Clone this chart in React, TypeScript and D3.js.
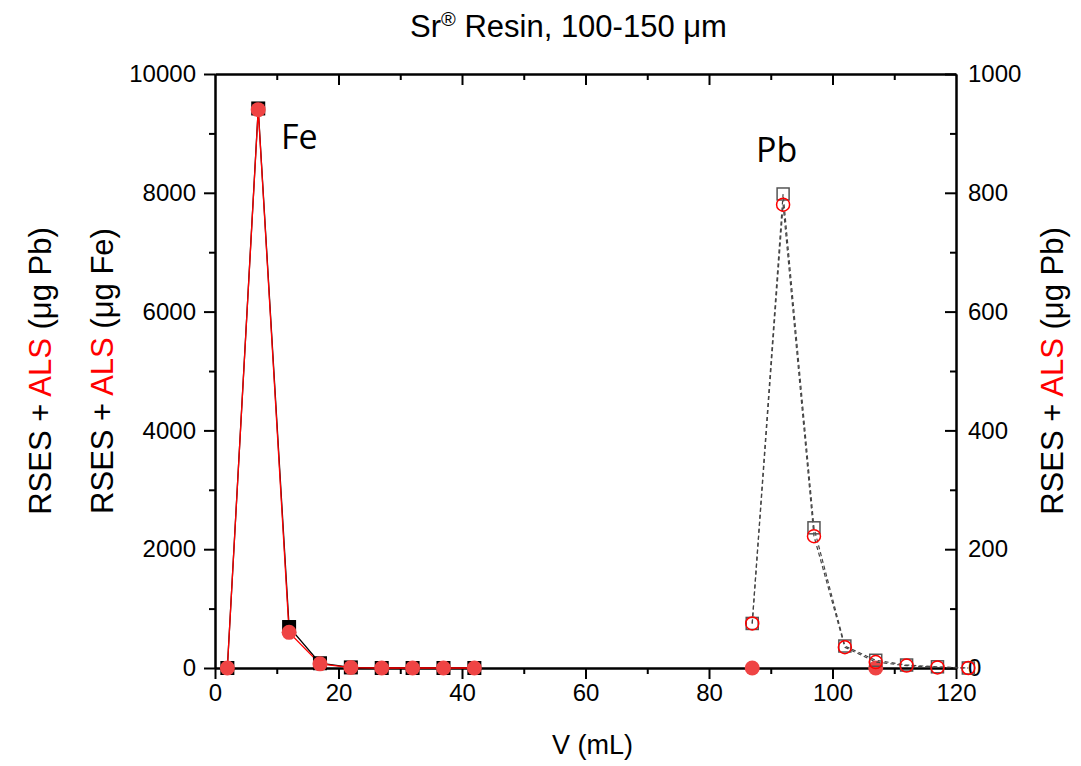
import { useEffect, useRef } from 'react';
import * as d3 from 'd3';

// Fe elution (left axis, µg Fe)
const feVolume = [2, 7, 12, 17, 22, 27, 32, 37, 42];
const feRses = [0, 9420, 690, 80, 10, 0, 0, 0, 0];
const feAls = [0, 9400, 600, 70, 8, 0, 0, 0, 0];
// ALS Fe readings in the Pb fractions
const feAlsLateVolume = [87, 107];
const feAlsLate = [0, 0];

// Pb elution (right axis, µg Pb)
const pbVolume = [87, 92, 97, 102, 107, 112, 117, 122];
const pbRses = [75, 798, 236, 37, 13, 5, 2, 0];
const pbAls = [75, 780, 222, 35, 10, 4, 1, 0];

const xTicks = [0, 20, 40, 60, 80, 100, 120];
const xMinor = [10, 30, 50, 70, 90, 110];
const feTicks = [0, 2000, 4000, 6000, 8000, 10000];
const feMinor = [1000, 3000, 5000, 7000, 9000];
const pbTicks = [0, 200, 400, 600, 800, 1000];
const pbMinor = [100, 300, 500, 700, 900];

const FONT = "'Liberation Sans', Arial, sans-serif";
const RED = '#ff0000';
const FILL_RED = '#ef4444';

const App = () => {
  const svgRef = useRef<SVGSVGElement>(null);

  useEffect(() => {
    const width = 1081;
    const height = 766;
    const plot = { left: 215, right: 956, top: 74, bottom: 668 };

    const svg = d3.select(svgRef.current);
    svg.selectAll('*').remove();
    svg.attr('width', width).attr('height', height);

    const x = d3.scaleLinear().domain([0, 120]).range([plot.left, plot.right]);
    const yFe = d3.scaleLinear().domain([0, 10000]).range([plot.bottom, plot.top]);
    const yPb = d3.scaleLinear().domain([0, 1000]).range([plot.bottom, plot.top]);
    const fmt = d3.format('d');
    const none = () => '';

    const styleAxis = (g, labels = true) => {
      g.selectAll('path.domain').attr('stroke', '#000').attr('stroke-width', 2);
      g.selectAll('.tick line').attr('stroke', '#000').attr('stroke-width', 2);
      g.selectAll('.tick text')
        .attr('fill', '#000')
        .style('font-family', FONT)
        .style('font-size', labels ? '24px' : '0px');
    };

    // bottom axis
    svg.append('g')
      .attr('transform', `translate(0,${plot.bottom})`)
      .call(d3.axisBottom(x).tickValues(xMinor).tickSize(6).tickSizeOuter(0).tickFormat(none))
      .call(g => styleAxis(g, false));
    svg.append('g')
      .attr('transform', `translate(0,${plot.bottom})`)
      .call(d3.axisBottom(x).tickValues(xTicks).tickSize(11).tickSizeOuter(0).tickPadding(5).tickFormat(fmt))
      .call(g => styleAxis(g));

    // top axis, ticks inward
    svg.append('g')
      .attr('transform', `translate(0,${plot.top})`)
      .call(d3.axisTop(x).tickValues(xMinor).tickSize(-6).tickSizeOuter(0).tickFormat(none))
      .call(g => styleAxis(g, false));
    svg.append('g')
      .attr('transform', `translate(0,${plot.top})`)
      .call(d3.axisTop(x).tickValues(xTicks.slice(1, -1)).tickSize(-11).tickSizeOuter(0).tickFormat(none))
      .call(g => styleAxis(g, false));

    // left axis (Fe)
    svg.append('g')
      .attr('transform', `translate(${plot.left},0)`)
      .call(d3.axisLeft(yFe).tickValues(feMinor).tickSize(6).tickSizeOuter(0).tickFormat(none))
      .call(g => styleAxis(g, false));
    svg.append('g')
      .attr('transform', `translate(${plot.left},0)`)
      .call(d3.axisLeft(yFe).tickValues(feTicks).tickSize(11).tickSizeOuter(0).tickPadding(8).tickFormat(fmt))
      .call(g => styleAxis(g));

    // right axis (Pb), ticks inward
    svg.append('g')
      .attr('transform', `translate(${plot.right},0)`)
      .call(d3.axisRight(yPb).tickValues(pbMinor).tickSize(-6).tickSizeOuter(0).tickFormat(none))
      .call(g => styleAxis(g, false));
    svg.append('g')
      .attr('transform', `translate(${plot.right},0)`)
      .call(d3.axisRight(yPb).tickValues(pbTicks).tickSize(-11).tickSizeOuter(0).tickPadding(12).tickFormat(fmt))
      .call(g => styleAxis(g));

    // Fe series
    const feLine = (vals) => d3.line<number>()
      .x((_, i) => x(feVolume[i]))
      .y(d => yFe(d))(vals);

    svg.append('path').attr('d', feLine(feRses))
      .attr('fill', 'none').attr('stroke', '#000').attr('stroke-width', 1.3);
    svg.append('path').attr('d', feLine(feAls))
      .attr('fill', 'none').attr('stroke', RED).attr('stroke-width', 1.3);

    svg.append('g').selectAll('rect')
      .data(feRses)
      .join('rect')
      .attr('x', (_, i) => x(feVolume[i]) - 7)
      .attr('y', d => yFe(d) - 7)
      .attr('width', 14)
      .attr('height', 14)
      .attr('fill', '#000');

    svg.append('g').selectAll('circle')
      .data(feAls)
      .join('circle')
      .attr('cx', (_, i) => x(feVolume[i]))
      .attr('cy', d => yFe(d))
      .attr('r', 7.5)
      .attr('fill', FILL_RED);

    svg.append('g').selectAll('circle')
      .data(feAlsLate)
      .join('circle')
      .attr('cx', (_, i) => x(feAlsLateVolume[i]))
      .attr('cy', d => yFe(d))
      .attr('r', 7.5)
      .attr('fill', FILL_RED);

    // Pb series
    const pbLine = (vals) => d3.line<number>()
      .x((_, i) => x(pbVolume[i]))
      .y(d => yPb(d))(vals);

    [pbRses, pbAls].forEach(vals => {
      svg.append('path').attr('d', pbLine(vals))
        .attr('fill', 'none')
        .attr('stroke', '#444')
        .attr('stroke-width', 1.2)
        .attr('stroke-dasharray', '4,3');
    });

    svg.append('g').selectAll('rect')
      .data(pbRses)
      .join('rect')
      .attr('x', (_, i) => x(pbVolume[i]) - 6)
      .attr('y', d => yPb(d) - 6)
      .attr('width', 12)
      .attr('height', 12)
      .attr('fill', 'none')
      .attr('stroke', '#555')
      .attr('stroke-width', 1.5);

    svg.append('g').selectAll('circle')
      .data(pbAls)
      .join('circle')
      .attr('cx', (_, i) => x(pbVolume[i]))
      .attr('cy', d => yPb(d))
      .attr('r', 6.5)
      .attr('fill', 'none')
      .attr('stroke', RED)
      .attr('stroke-width', 1.5);

    // peak labels
    svg.append('text').attr('x', 281).attr('y', 149).text('Fe')
      .style('font-family', "'Open Sans', 'Noto Sans', sans-serif").style('font-size', '34px');
    svg.append('text').attr('x', 756).attr('y', 162).text('Pb')
      .style('font-family', "'Open Sans', 'Noto Sans', sans-serif").style('font-size', '34px');

    // title
    const title = svg.append('text')
      .attr('x', (plot.left + plot.right) / 2 - 17)
      .attr('y', 37)
      .attr('text-anchor', 'middle')
      .style('font-family', FONT)
      .style('font-size', '31px');
    title.append('tspan').text('Sr');
    title.append('tspan').text('®').attr('dy', -11).style('font-size', '20px');
    title.append('tspan').text(' Resin, 100-150 μm').attr('dy', 11);

    // x title
    svg.append('text')
      .attr('x', (plot.left + plot.right) / 2 + 7)
      .attr('y', 754)
      .attr('text-anchor', 'middle')
      .style('font-family', FONT)
      .style('font-size', '27px')
      .text('V (mL)');

    // y titles
    const yTitle = (cx, unit) => {
      const t = svg.append('text')
        .attr('transform', `translate(${cx},371) rotate(-90)`)
        .attr('text-anchor', 'middle')
        .style('font-family', FONT)
        .style('font-size', '31px');
      t.append('tspan').text('RSES + ');
      t.append('tspan').text('ALS').attr('fill', RED);
      t.append('tspan').text(` (μg ${unit})`);
    };
    yTitle(51, 'Pb');
    yTitle(113, 'Fe');
    yTitle(1063, 'Pb');
  }, []);

  return <svg ref={svgRef} style={{ position: 'absolute', left: 0, top: 0 }}></svg>;
};

export default App;
